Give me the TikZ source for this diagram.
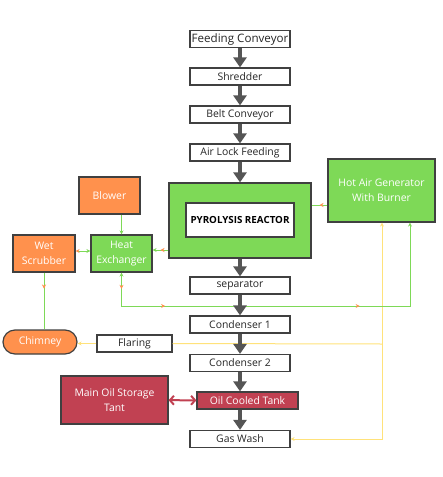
\documentclass[tikz,border=0pt]{standalone}
\usepackage{fontspec}
\setmainfont{Open Sans}
\usetikzlibrary{arrows.meta,decorations.markings}
\definecolor{gfill}{RGB}{126,217,87}
\definecolor{ofill}{RGB}{255,145,77}
\definecolor{rfill}{RGB}{193,65,82}
\definecolor{ycol}{RGB}{255,226,122}
\definecolor{acol}{RGB}{85,85,85}
\begin{document}
\begin{tikzpicture}[x=1pt,y=-1pt,
	box/.style={draw=black!75,line width=1.2pt,fill=white,text=black!85,minimum width=100pt,minimum height=17pt,inner sep=0pt,font=\fontsize{10.4}{15}\selectfont},
	gbox/.style={box,fill=gfill,text=white,align=center},
	obox/.style={box,fill=ofill,text=white,align=center},
	rbox/.style={box,fill=rfill,text=white,align=center},
	flow/.style={draw=acol,line width=3.5pt,-{Triangle[length=10pt,width=13pt]}},
	gline/.style={draw=gfill,line width=1pt},
	yline/.style={draw=ycol,line width=1pt},
	gtip/.style={-{Stealth[length=4pt,width=4pt]}},
	omid/.style={postaction={decorate,decoration={markings,mark=at position #1 with {\arrow[ofill]{Stealth[length=4pt,width=4pt]}}}}}]
	\useasboundingbox (0,0) rectangle (443,477);
	\node[box,font=\fontsize{11.6}{15}\selectfont] (feed) at (240,39) {Feeding Conveyor};
	\node[box] (shred) at (240,76.5) {Shredder};
	\node[box] (belt) at (240,114.5) {Belt Conveyor};
	\node[box] (air) at (240,152.5) {Air Lock Feeding};
	\node[gbox,minimum width=142pt,minimum height=75pt] (reactor) at (240,220.5) {};
	\node[box,minimum width=108pt,minimum height=34pt,font=\fontsize{9.8}{11}\selectfont\bfseries,text=black] (core) at (240,220) {PYROLYSIS REACTOR};
	\node[gbox,minimum width=107pt,minimum height=63pt] (hotair) at (381.5,190.5) {Hot Air Generator\\With Burner};
	\node[obox,minimum width=61pt,minimum height=37pt] (blower) at (109.5,195.5) {Blower};
	\node[gbox,minimum width=61pt,minimum height=37pt] (hx) at (121.5,253.5) {Heat\\Exchanger};
	\node[obox,minimum width=62pt,minimum height=37pt] (wet) at (44,253.5) {Wet\\Scrubber};
	\node[box] (sep) at (240,285.5) {separator};
	\node[box] (cond1) at (240,324.5) {Condenser 1};
	\node[obox,rounded corners=12pt,minimum width=74pt,minimum height=24pt] (chimney) at (40,342) {Chimney};
	\node[box,minimum width=75pt] (flaring) at (134.5,343.5) {Flaring};
	\node[box] (cond2) at (240,363) {Condenser 2};
	\node[rbox,minimum width=107pt,minimum height=48pt] (mainoil) at (114.5,400) {Main Oil Storage\\Tant};
	\node[rbox,minimum width=101pt] (oilcool) at (247.5,400.5) {Oil Cooled Tank};
	\node[box] (gaswash) at (240,439) {Gas Wash};
	\coordinate (tap) at (382,344);
	\draw[yline] (flaring.east) -- (tap);
	\draw[yline,gtip] (tap) -- (tap |- hotair.south);
	\draw[yline,gtip] (tap) |- (gaswash.east);
	\draw[yline,gtip] (flaring.west) -- (chimney.east |- flaring.west);
	\draw[gline,gtip] (hx.north |- blower.south) -- (hx.north);
	\draw[gline,gtip,omid=0.5] (reactor.west |- 0,250) -- (hx.east |- 0,250);
	\draw[gline,omid=0.5] (hotair.west |- 0,205) -- (reactor.east |- 0,205);
	\draw[gline,{Stealth[length=4pt,width=4pt,color=ofill]}-{Stealth[length=4pt,width=4pt]}] (wet.east |- 0,251) -- (hx.west |- 0,251);
	\draw[gline,omid=0.28] (wet.south) -- (wet.south |- chimney.north);
	\draw[gline,{Stealth[length=4pt,width=4pt]}-{Stealth[length=4pt,width=4pt]},omid=0.04,omid=0.19,omid=0.67] (hx.south) |- (410,306) -- (hotair.south -| 410,0);
	\draw[draw=rfill,line width=2pt,{Straight Barb[length=4pt,width=9pt]}-{Straight Barb[length=4pt,width=9pt]}] (mainoil) -- (oilcool);
	\draw[flow] (feed) -- (shred);
	\draw[flow] (shred) -- (belt);
	\draw[flow] (belt) -- (air);
	\draw[flow] (air) -- (reactor);
	\draw[flow] (reactor) -- (sep);
	\draw[flow] (sep) -- (cond1);
	\draw[flow] (cond1) -- (cond2);
	\draw[flow] (cond2) -- (cond2 |- oilcool.north);
	\draw[flow] (oilcool.south -| gaswash) -- (gaswash);
\end{tikzpicture}
\end{document}
